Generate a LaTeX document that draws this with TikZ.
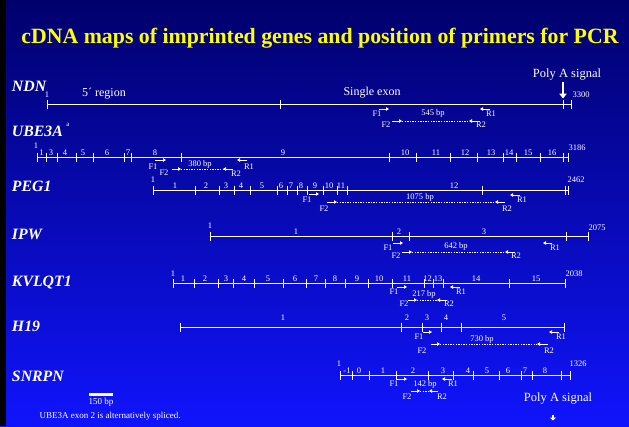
\documentclass[tikz,border=0pt]{standalone}
\usepackage{fontspec}
\setmainfont{Liberation Serif}
\usetikzlibrary{arrows.meta}
\begin{document}
\begin{tikzpicture}[x=1pt,y=-1pt,
 every node/.style={text=white, inner sep=0pt, outer sep=0pt},
 ex/.style={font=\fontsize{8.5}{9}\selectfont, anchor=base},
 num/.style={font=\fontsize{8.5}{9}\selectfont},
 gene/.style={font=\fontsize{15.8}{16}\selectfont\bfseries\itshape, anchor=west},
 note/.style={font=\fontsize{12}{13}\selectfont},
 plab/.style={font=\fontsize{8.5}{9}\selectfont},
 gl/.style={draw=white, line width=0.9pt},
 tk/.style={draw=white, line width=0.9pt},
 pr/.style={draw=white, line width=0.8pt, -{Triangle[length=3pt,width=3.5pt]}},
 dl/.style={draw=white, line width=0.9pt, dash pattern=on 1.3pt off 1.3pt}
]
\useasboundingbox (0,0) rectangle (629,426);
\shade[top color={rgb,255:red,0;green,0;blue,108}, middle color={rgb,255:red,0;green,0;blue,192}, bottom color={rgb,255:red,16;green,20;blue,252}] (0,0) rectangle (629,426);
\fill[black] (0,0) rectangle (6,426);

% title
\node[font=\fontsize{21.8}{23}\selectfont\bfseries, text={rgb,255:red,255;green,255;blue,0}] (title) at (320,38) {cDNA maps of imprinted genes and position of primers for PCR};

% gene names
\node[gene] (nNDN) at (12,86) {NDN};
\node[gene] (nUBE) at (12,131) {UBE3A};
\node[font=\fontsize{7}{8}\selectfont] (sup) at (68,125) {a};
\node[gene] (nPEG) at (12,186) {PEG1};
\node[gene] (nIPW) at (12,234) {IPW};
\node[gene] (nKVL) at (12,283) {KVLQT1};
\node[gene] (nH19) at (12,326) {H19};
\node[gene] (nSNR) at (12,376) {SNRPN};

% ---------- NDN ----------
\draw[gl] (47,104) -- (571,104);
\foreach \x in {47,280,563,571} \draw[tk] (\x,99.5) -- (\x,108.5);
\node[num] (ndn1) at (47,94.5) {1};
\node[num] (ndnE) at (581,95) {3300};
\node[note] (r5) at (104,93.5) {5´ region};
\node[note] (se) at (372,92.5) {Single exon};
\node[note, font=\fontsize{12.5}{13}\selectfont] (polyA) at (567,75) {Poly A signal};
\coordinate (pa1) at (563,82); \coordinate (pa2) at (563,98.5);
\draw[white, line width=2.6pt, -{Triangle[length=5pt,width=7.5pt]}] (pa1) -- (pa2);
\coordinate (a1) at (379,109); \coordinate (a2) at (389,109);
\coordinate (b1) at (490,109); \coordinate (b2) at (480,109);
\coordinate (c1) at (392,121); \coordinate (c2) at (402,121);
\coordinate (d1) at (480,121); \coordinate (d2) at (469,121);
\draw[pr] (a1) -- (a2); \draw[pr] (b1) -- (b2);
\draw[pr] (c1) -- (c2); \draw[pr] (d1) -- (d2);
\draw[dl] (c2) -- (d2);
\node[plab] at (377,114) {F1}; \node[plab] at (491,114) {R1};
\node[plab] at (386,125) {F2}; \node[plab] at (481,125) {R2};
\node[plab] at (433,113) {545 bp};

% ---------- UBE3A ----------
\draw[gl] (37,157) -- (568,157);
\foreach \x in {37,46,57,76,93,124,131,181,389,416,450,477,503,516,540,563,568} \draw[tk] (\x,152.5) -- (\x,161.5);
\foreach \x/\t in {41.5/1,51/3,65/4,83/5,107/6,128/7,155/8,283/9,405/10,436/11,465/12,491/13,509/14,528/15,552/16} \node[ex] at (\x,155.5) {\t};
\node[num] at (36,146) {1};
\node[num] at (577,148) {3186};
\coordinate (a1) at (155,160); \coordinate (a2) at (166,160);
\coordinate (b1) at (247,160); \coordinate (b2) at (237,160);
\coordinate (c1) at (172,169); \coordinate (c2) at (181,169);
\coordinate (d1) at (233,169); \coordinate (d2) at (223,169);
\draw[pr] (a1) -- (a2); \draw[pr] (b1) -- (b2);
\draw[pr] (c1) -- (c2); \draw[pr] (d1) -- (d2);
\draw[dl] (c2) -- (d2);
\node[plab] at (153,167) {F1}; \node[plab] at (249,167) {R1};
\node[plab] at (164,173) {F2}; \node[plab] at (236,174) {R2};
\node[plab] at (200,164) {380 bp};

% ---------- PEG1 ----------
\draw[gl] (153,190) -- (568,190);
\foreach \x in {153,195,219,234,250,277,287,297,307,323,337,347,482,565,568} \draw[tk] (\x,185.5) -- (\x,194.5);
\foreach \x/\t in {175/1,206/2,226/3,241/4,262/5,281/6,291/7,301/8,315/9,329/10,341/11,454/12} \node[ex] at (\x,188.5) {\t};
\node[num] at (153,180) {1};
\node[num] at (576,179.5) {2462};
\coordinate (a1) at (309,194); \coordinate (a2) at (319,194);
\coordinate (b1) at (520,195); \coordinate (b2) at (510,195);
\coordinate (c1) at (327,202); \coordinate (c2) at (337,202);
\coordinate (d1) at (505,202); \coordinate (d2) at (495,202);
\draw[pr] (a1) -- (a2); \draw[pr] (b1) -- (b2);
\draw[pr] (c1) -- (c2); \draw[pr] (d1) -- (d2);
\draw[dl] (c2) -- (d2);
\node[plab] at (307,200) {F1}; \node[plab] at (522,200) {R1};
\node[plab] at (324,209) {F2}; \node[plab] at (507,209) {R2};
\node[plab] at (420,197) {1075 bp};

% ---------- IPW ----------
\draw[gl] (210,236) -- (588,236);
\foreach \x in {210,392,409,566,588} \draw[tk] (\x,231.5) -- (\x,240.5);
\foreach \x/\t in {296/1,399/2,484/3} \node[ex] at (\x,234.5) {\t};
\node[num] at (210,226) {1};
\node[num] at (597,228) {2075};
\coordinate (a1) at (393,243); \coordinate (a2) at (403,243);
\coordinate (b1) at (552,243); \coordinate (b2) at (543,243);
\coordinate (c1) at (402,252); \coordinate (c2) at (412,252);
\coordinate (d1) at (515,252); \coordinate (d2) at (505,252);
\draw[pr] (a1) -- (a2); \draw[pr] (b1) -- (b2);
\draw[pr] (c1) -- (c2); \draw[pr] (d1) -- (d2);
\draw[dl] (c2) -- (d2);
\node[plab] at (388,248) {F1}; \node[plab] at (555,248) {R1};
\node[plab] at (396,256) {F2}; \node[plab] at (516,256) {R2};
\node[plab] at (456,246) {642 bp};

% ---------- KVLQT1 ----------
\draw[gl] (173,283) -- (565,283);
\foreach \x in {173,194,218,233,254,283,306,325,345,368,392,424,433,443,509,565} \draw[tk] (\x,278.5) -- (\x,287.5);
\foreach \x/\t in {183/1,205/2,226/3,244/4,268/5,295/6,316/7,335/8,357/9,379/10,407/11,427.5/12,438/13,476/14,536/15} \node[ex] at (\x,281.5) {\t};
\node[num] at (173,274) {1};
\node[num] at (574,274) {2038};
\coordinate (a1) at (397,287); \coordinate (a2) at (407,287);
\coordinate (b1) at (460,287); \coordinate (b2) at (450,287);
\coordinate (c1) at (408,300); \coordinate (c2) at (417,300);
\coordinate (d1) at (447,300); \coordinate (d2) at (437,300);
\draw[pr] (a1) -- (a2); \draw[pr] (b1) -- (b2);
\draw[pr] (c1) -- (c2); \draw[pr] (d1) -- (d2);
\draw[dl] (c2) -- (d2);
\node[plab] at (394,292) {F1}; \node[plab] at (461,292) {R1};
\node[plab] at (404,304) {F2}; \node[plab] at (449,304) {R2};
\node[plab] at (424,294) {217 bp};

% ---------- H19 ----------
\draw[gl] (180,327) -- (564,327);
\foreach \x in {180,401,422,441,461,564} \draw[tk] (\x,322.5) -- (\x,331.5);
\foreach \x/\t in {283/1,407/2,427/3,446/4,504/5} \node[ex] at (\x,320.5) {\t};
\coordinate (a1) at (423,332); \coordinate (a2) at (432,332);
\coordinate (b1) at (559,332); \coordinate (b2) at (549,332);
\coordinate (c1) at (431,344); \coordinate (c2) at (440,344);
\coordinate (d1) at (548,344); \coordinate (d2) at (537,344);
\draw[pr] (a1) -- (a2); \draw[pr] (b1) -- (b2);
\draw[pr] (c1) -- (c2); \draw[pr] (d1) -- (d2);
\draw[dl] (c2) -- (d2);
\node[plab] at (419,337) {F1}; \node[plab] at (561,337) {R1};
\node[plab] at (422,351) {F2}; \node[plab] at (549,351) {R2};
\node[plab] at (482,339) {730 bp};

% ---------- SNRPN ----------
\draw[gl] (340,375) -- (570,375);
\foreach \x in {340,352,369,396,428,453,473,499,521,532,561,570} \draw[tk] (\x,370.5) -- (\x,379.5);
\foreach \x/\t in {347/-1,359/0,383/1,413/2,443/3,468/4,487/5,508/6,525/7,545/8} \node[ex] at (\x,373.5) {\t};
\node[num] at (339,364) {1};
\node[num] at (578,364) {1326};
\coordinate (a1) at (397,379); \coordinate (a2) at (407,379);
\coordinate (b1) at (452,379); \coordinate (b2) at (442,379);
\coordinate (c1) at (411,391); \coordinate (c2) at (420,391);
\coordinate (d1) at (438,391); \coordinate (d2) at (429,391);
\draw[pr] (a1) -- (a2); \draw[pr] (b1) -- (b2);
\draw[pr] (c1) -- (c2); \draw[pr] (d1) -- (d2);
\draw[dl] (c2) -- (d2);
\node[plab] at (394,384) {F1}; \node[plab] at (453,384) {R1};
\node[plab] at (407,397) {F2}; \node[plab] at (442,397) {R2};
\node[plab] at (425,384) {142 bp};

% bottom
\node[note, font=\fontsize{12.5}{13}\selectfont] (polyB) at (558,399) {Poly A signal};
\coordinate (pb1) at (553,414.5); \coordinate (pb2) at (553,420.5);
\draw[white, line width=2.4pt, -{Triangle[length=3pt,width=6pt]}] (pb1) -- (pb2);
\fill[white] (89,392.5) rectangle (113,395.5);
\node[plab, font=\fontsize{9}{10}\selectfont] (scale) at (101,402) {150 bp};
\node[plab, font=\fontsize{9}{10}\selectfont] (foot) at (110,416) {UBE3A exon 2 is alternatively spliced.};
\end{tikzpicture}
\end{document}
